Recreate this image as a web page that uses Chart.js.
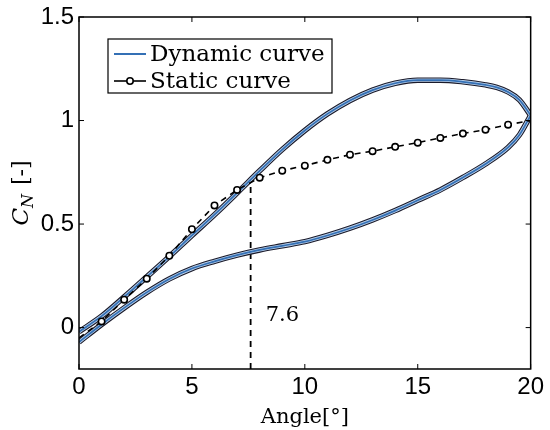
<!DOCTYPE html>
<html>
<head>
<meta charset="utf-8">
<script src="https://cdn.jsdelivr.net/npm/chart.js@4"></script>
<style>
html,body{margin:0;padding:0;background:#fff;}
canvas{display:block;}
</style>
</head>
<body>
<canvas id="c" width="550" height="430"></canvas>
<script>
// ---- data ----
const xTicks = [0, 5, 10, 15, 20];
const yTicks = [0, 0.5, 1, 1.5];

const upperAngle = [0, 1, 2, 3, 4, 5, 6, 7, 8, 9, 10, 11, 12, 13, 14, 15, 16, 17, 18, 18.5, 19, 19.5, 20];
const upperCN    = [-0.02, 0.055, 0.148, 0.245, 0.343, 0.445, 0.545, 0.65, 0.757, 0.86, 0.952, 1.032, 1.097, 1.147, 1.18, 1.195, 1.195, 1.187, 1.172, 1.16, 1.138, 1.1, 1.025];

const lowerAngle = [0, 1, 2, 3, 4, 5, 6, 7, 8, 9, 10, 11, 12, 13, 14, 15, 16, 17, 18, 19, 19.5, 20];
const lowerCN    = [-0.07, 0.015, 0.095, 0.17, 0.235, 0.285, 0.32, 0.35, 0.375, 0.395, 0.415, 0.445, 0.48, 0.52, 0.565, 0.615, 0.665, 0.725, 0.79, 0.87, 0.93, 1.025];

const staticAngle = [0, 1, 2, 3, 4, 5, 6, 7, 8, 9, 10, 11, 12, 13, 14, 15, 16, 17, 18, 19, 20];
const staticCN    = [-0.05, 0.03, 0.135, 0.236, 0.347, 0.475, 0.59, 0.665, 0.724, 0.758, 0.782, 0.81, 0.835, 0.852, 0.873, 0.893, 0.916, 0.937, 0.956, 0.98, 1.0];

const markerAngle = 7.6;
const markerCN = [-0.2, 0.715];
const markerLabel = '7.6';

const legendLabels = ['Dynamic curve', 'Static curve'];

// ---- styles ----
const BLUE = '#3470b5';
const LIGHT = '#b5cde9';
const DARK = '#1a1a2a';

const pts = (xs, ys) => xs.map((v, i) => ({x: v, y: ys[i]}));

function dynLayers(xs, ys) {
  return [
    {data: pts(xs, ys), borderColor: DARK, borderWidth: 5.5, order: 3},
    {data: pts(xs, ys), borderColor: LIGHT, borderWidth: 3.4, order: 2},
    {data: pts(xs, ys), borderColor: BLUE, borderWidth: 1.7, order: 1}
  ].map(d => Object.assign(d, {pointRadius: 0, cubicInterpolationMode: 'monotone', fill: false}));
}

const datasets = [
  {
    label: legendLabels[1],
    data: pts(staticAngle, staticCN),
    borderColor: '#000', borderWidth: 1.6, borderDash: [6, 5],
    pointRadius: c => (c.dataIndex === 0 || c.dataIndex === staticAngle.length - 1) ? 0 : 3.2,
    pointBackgroundColor: '#fff', pointBorderColor: '#000', pointBorderWidth: 1.6,
    tension: 0, fill: false, order: 0
  },
  {
    data: pts([markerAngle, markerAngle], markerCN),
    borderColor: '#000', borderWidth: 1.8, borderDash: [6, 5],
    pointRadius: 0, tension: 0, fill: false, order: 4
  },
  ...dynLayers(upperAngle, upperCN),
  ...dynLayers(lowerAngle, lowerCN)
];

const overlay = {
  id: 'overlay',
  afterDraw(chart) {
    const {ctx, chartArea: a, scales: {x, y}} = chart;
    ctx.save();
    // box
    ctx.strokeStyle = '#000';
    ctx.lineWidth = 1.5;
    ctx.strokeRect(a.left, a.top, a.right - a.left, a.bottom - a.top);
    // inward ticks
    ctx.lineWidth = 1;
    const tl = 5;
    const seg = (x1, y1, x2, y2) => { ctx.beginPath(); ctx.moveTo(x1, y1); ctx.lineTo(x2, y2); ctx.stroke(); };
    xTicks.forEach(v => { const p = x.getPixelForValue(v); seg(p, a.bottom, p, a.bottom - tl); seg(p, a.top, p, a.top + tl); });
    yTicks.forEach(v => { const p = y.getPixelForValue(v); seg(a.left, p, a.left + tl, p); seg(a.right, p, a.right - tl, p); });

    // legend
    const lx = a.left + 29, ly = a.top + 22, lw = 224, lh = 54;
    ctx.fillStyle = '#fff';
    ctx.fillRect(lx, ly, lw, lh);
    ctx.lineWidth = 1.2;
    ctx.strokeStyle = '#000';
    ctx.strokeRect(lx, ly, lw, lh);
    ctx.strokeStyle = BLUE; ctx.lineWidth = 2;
    seg(lx + 6, ly + 15, lx + 38, ly + 15);
    ctx.strokeStyle = '#000'; ctx.lineWidth = 1.6;
    seg(lx + 6, ly + 42, lx + 38, ly + 42);
    ctx.beginPath(); ctx.arc(lx + 22, ly + 42, 3.2, 0, Math.PI * 2);
    ctx.fillStyle = '#fff'; ctx.fill(); ctx.stroke();
    ctx.fillStyle = '#000';
    ctx.font = '23px "DejaVu Serif"';
    ctx.textAlign = 'left'; ctx.textBaseline = 'alphabetic';
    ctx.fillText(legendLabels[0], lx + 42, ly + 22);
    ctx.fillText(legendLabels[1], lx + 42, ly + 49);

    // marker label
    ctx.font = '21px "DejaVu Serif"';
    ctx.textBaseline = 'middle';
    ctx.fillText(markerLabel, x.getPixelForValue(markerAngle) + 15, y.getPixelForValue(0.06));

    // y title  C_N [-]
    ctx.translate(28, (a.top + a.bottom) / 2);
    ctx.rotate(-Math.PI / 2);
    ctx.textBaseline = 'alphabetic';
    const fC = 'italic 23px "DejaVu Serif"', fN = 'italic 16px "DejaVu Serif"', fB = '22px "DejaVu Serif"';
    ctx.font = fC; const wC = ctx.measureText('C').width;
    ctx.font = fN; const wN = ctx.measureText('N').width;
    ctx.font = fB; const wB = ctx.measureText(' [-]').width;
    let sx = -(wC + wN + wB + 2) / 2;
    ctx.font = fC; ctx.fillText('C', sx, 0); sx += wC;
    ctx.font = fN; ctx.fillText('N', sx, 5); sx += wN + 2;
    ctx.font = fB; ctx.fillText(' [-]', sx, 0);
    ctx.restore();
  }
};

new Chart(document.getElementById('c'), {
  type: 'line',
  data: {datasets},
  options: {
    responsive: false,
    animation: false,
    events: [],
    devicePixelRatio: 1,
    layout: {padding: {left: 0, right: 13, top: 14, bottom: 0}},
    plugins: {legend: {display: false}, tooltip: {enabled: false}},
    scales: {
      x: {
        type: 'linear', min: 0, max: 20,
        afterBuildTicks: s => { s.ticks = xTicks.map(v => ({value: v})); },
        afterFit: s => { s.height = 61; },
        grid: {display: false, drawTicks: false},
        border: {display: false},
        ticks: {color: '#000', padding: 6, font: {family: '"Liberation Sans"', size: 24, lineHeight: 1}, callback: v => String(v), maxRotation: 0},
        title: {display: true, text: 'Angle[°]', color: '#000', font: {family: '"DejaVu Serif"', size: 21}, padding: {top: 0, bottom: 0}}
      },
      y: {
        type: 'linear', min: -0.2, max: 1.5,
        afterBuildTicks: s => { s.ticks = yTicks.map(v => ({value: v})); },
        afterFit: s => { s.width = 79; },
        grid: {display: false, drawTicks: false},
        border: {display: false},
        ticks: {color: '#000', padding: 5, font: {family: '"Liberation Sans"', size: 24, lineHeight: 1}, callback: v => String(v)}
      }
    }
  },
  plugins: [overlay]
});
</script>
</body>
</html>
